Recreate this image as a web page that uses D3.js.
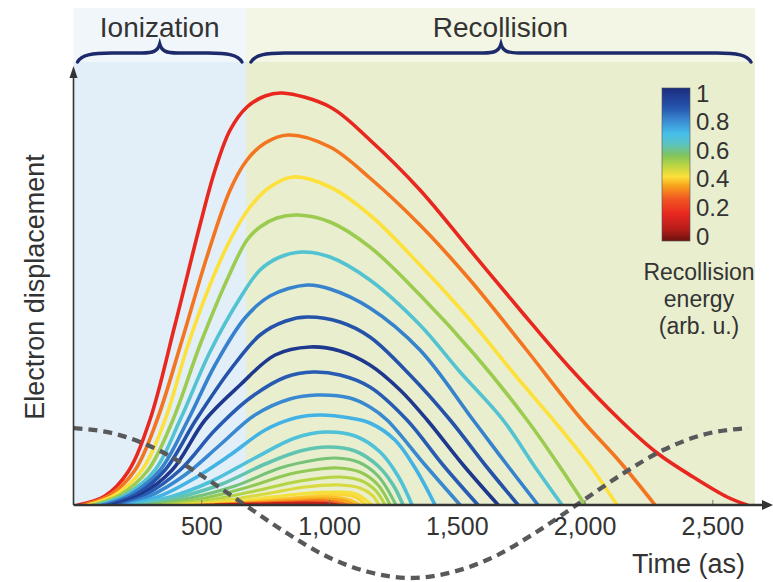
<!DOCTYPE html>
<html>
<head>
<meta charset="utf-8">
<script src="https://cdn.jsdelivr.net/npm/d3@7"></script>
<style>
    body { margin: 0; background: #fff; }
    svg { display: block; font-family: "Liberation Sans", Arial, sans-serif; }
</style>
</head>
<body>
<svg id="chart" width="773" height="582"></svg>
<script>
// time ticks (as) and colour bar ticks
const TIME_TICKS = [500, 1000, 1500, 2000, 2500];
const ENERGY_TICKS = [0, 0.2, 0.4, 0.6, 0.8, 1];
const CB_TITLE = ['Recollision', 'energy', '(arb. u.)'];

// phases (as)
const IONIZATION_END = 675;
const CYCLE_END = 2667;

// recollision energy of each trajectory (arb. u.)
const trajEnergy = [0.18, 0.31, 0.42, 0.53, 0.66, 0.8, 0.88, 0.96, 0.86, 0.79, 0.72, 0.67, 0.62, 0.58, 0.54, 0.5, 0.46, 0.43, 0.41, 0.39, 0.36, 0.3, 0.12];

// trajectory times (as)
const trajTimes = [
    [18, 123, 213, 299, 397, 495, 554, 613, 679, 750, 816, 1004, 1160, 1356, 1552, 1748, 1943, 2139, 2284, 2425, 2558, 2636],
    [37, 143, 241, 327, 425, 522, 613, 679, 750, 840, 1004, 1160, 1356, 1552, 1767, 1990, 2139, 2276],
    [57, 162, 268, 358, 448, 534, 613, 691, 769, 859, 1004, 1160, 1356, 1552, 1728, 1904, 2022, 2127],
    [76, 182, 292, 389, 495, 613, 679, 730, 796, 879, 1004, 1160, 1356, 1571, 1775, 1904, 2002],
    [96, 202, 319, 417, 534, 652, 730, 808, 894, 1004, 1160, 1356, 1513, 1681, 1806, 1912],
    [115, 221, 339, 448, 554, 671, 769, 914, 1004, 1160, 1356, 1564, 1697, 1818],
    [135, 241, 358, 479, 613, 730, 831, 914, 1043, 1160, 1317, 1474, 1611, 1740],
    [155, 260, 386, 515, 652, 789, 926, 1043, 1160, 1278, 1384, 1525, 1662],
    [174, 280, 417, 554, 691, 831, 937, 1043, 1160, 1305, 1446, 1583],
    [194, 299, 436, 573, 710, 847, 953, 1082, 1160, 1227, 1376, 1513],
    [213, 339, 476, 613, 750, 867, 965, 1082, 1160, 1258, 1337, 1415],
    [233, 378, 534, 710, 867, 984, 1102, 1200, 1270, 1325],
    [260, 417, 581, 750, 887, 996, 1102, 1192, 1251, 1290],
    [288, 456, 632, 808, 945, 1024, 1114, 1192, 1262],
    [319, 495, 671, 847, 965, 1035, 1121, 1192, 1239],
    [350, 534, 710, 887, 1043, 1129, 1184, 1219],
    [386, 573, 750, 906, 1043, 1121, 1168, 1196],
    [425, 605, 777, 926, 1035, 1106, 1168],
    [456, 632, 808, 984, 1043, 1102, 1145],
    [476, 652, 828, 1004, 1082, 1121],
    [495, 671, 847, 984, 1063, 1098],
    [515, 691, 847, 984, 1043, 1071],
    [554, 730, 887, 984, 1035],
];

// electron displacement (arb. u.)
const trajDisp = [
    [0, 2.25, 8.25, 21.25, 45, 70, 83.75, 93.75, 99.5, 102.25, 103, 99.5, 91.25, 78.75, 63.75, 48.75, 34.25, 21.25, 13, 7, 2, 0],
    [0, 2.5, 8.75, 21.25, 41.25, 62, 78.75, 86.25, 90.5, 92.5, 89.5, 81.75, 70, 56.25, 39.25, 21.25, 10.75, 0],
    [0, 2.5, 8.75, 21.25, 40, 55, 66.25, 74.5, 79.5, 82, 79.5, 72.5, 60, 46.25, 32.5, 19.25, 9.75, 0],
    [0, 2.5, 8.75, 21.25, 40, 58, 66.25, 69.5, 71.75, 72.5, 70.75, 64.5, 52.5, 37.5, 21.25, 9.5, 0],
    [0, 2.5, 8.75, 21.25, 38.25, 51.75, 58.75, 62, 63.25, 62, 56.25, 45, 33.25, 21.25, 9.5, 0],
    [0, 2.5, 8.75, 21.25, 35, 46.75, 52.25, 55, 54, 49.25, 38.75, 21.25, 10, 0],
    [0, 2.5, 8.75, 21.25, 33.75, 42.5, 46, 47, 45.75, 42, 32.5, 21.25, 10, 0],
    [0, 2.5, 8.75, 21.25, 30, 37.5, 39.5, 38.5, 35, 28.75, 21.25, 10, 0],
    [0, 2.5, 8.75, 18.75, 26.75, 32, 33.25, 32.5, 29.5, 21.25, 10, 0],
    [0, 2.25, 7.5, 15, 22.5, 26.5, 27.5, 26.75, 24.5, 21.25, 10, 0],
    [0, 2.25, 6.75, 12.5, 18.75, 21.75, 22.5, 21.75, 20.5, 16.25, 9.25, 0],
    [0, 2, 5.75, 11.75, 16.75, 18.25, 17.25, 13.25, 7.25, 0],
    [0, 2, 5.25, 10.25, 13.5, 14.5, 13.5, 9.75, 5, 0],
    [0, 1.75, 4.75, 9.25, 11.25, 11.75, 10.75, 7.25, 0],
    [0, 1.5, 4.25, 7.75, 9, 9.25, 8.25, 5, 0],
    [0, 1.25, 3.5, 6, 7, 6, 3.5, 0],
    [0, 1, 2.75, 4.5, 5, 4.25, 2.5, 0],
    [0, 0.75, 2, 3, 3.25, 2.75, 0],
    [0, 0.5, 1.4, 2.5, 2.6, 2, 0],
    [0, 0.5, 1.5, 2, 1.25, 0],
    [0, 0.4, 1.1, 1.5, 1, 0],
    [0, 0.4, 0.75, 1, 0.5, 0],
    [0, 0.25, 0.5, 0.4, 0],
];

// laser field (dashed)
const fieldTimes = [0, 165, 330, 495, 660, 825, 990, 1155, 1320, 1485, 1650, 1815, 1980, 2145, 2310, 2475, 2640];
const fieldValues = [1, 0.92, 0.71, 0.38, 0, -0.38, -0.71, -0.92, -1, -0.92, -0.71, -0.38, 0, 0.38, 0.71, 0.92, 1];

const INK = '#333';

let svg = d3.select('#chart');

let x = d3.scaleLinear().domain([0, 2500]).range([73.5, 712.3]);
let y = d3.scaleLinear().domain([0, 100]).range([505, 105]);
let yField = d3.scaleLinear().domain([-1, 1]).range([578, 428]);

let energyColor = d3.scaleLinear()
    .domain([0, 0.08, 0.18, 0.28, 0.36, 0.42, 0.5, 0.56, 0.63, 0.7, 0.78, 0.87, 1])
    .range(['#6b130e', '#b81c1a', '#e8281f', '#f15a22', '#f7a21b', '#fde03a', '#b5d444', '#80c35c', '#5cc4bf', '#46bfea', '#3b8fd4', '#2656ae', '#1b2b7e']);

// background phases
const HEAD_TOP = 8, HEAD_BOTTOM = 62;
let bg = svg.append('g');
bg.append('rect').attr('x', x(0)).attr('y', HEAD_TOP)
    .attr('width', x(IONIZATION_END) - x(0)).attr('height', HEAD_BOTTOM - HEAD_TOP).attr('fill', '#f1f6fb');
bg.append('rect').attr('x', x(0)).attr('y', HEAD_BOTTOM)
    .attr('width', x(IONIZATION_END) - x(0)).attr('height', y(0) - HEAD_BOTTOM).attr('fill', '#e2eef8');
bg.append('rect').attr('x', x(IONIZATION_END)).attr('y', HEAD_TOP)
    .attr('width', x(CYCLE_END) - x(IONIZATION_END)).attr('height', HEAD_BOTTOM - HEAD_TOP).attr('fill', '#f4f6e5');
bg.append('rect').attr('x', x(IONIZATION_END)).attr('y', HEAD_BOTTOM)
    .attr('width', x(CYCLE_END) - x(IONIZATION_END)).attr('height', y(0) - HEAD_BOTTOM).attr('fill', '#e9eecf');

function bracePath(x0, x1, yTip, yEnd) {
    let mid = (x0 + x1) / 2;
    let yMid = yTip + (yEnd - yTip) * 0.5;
    return `M${x0},${yEnd} C${x0 + 4},${yMid + 2} ${x0 + 14},${yMid} ${x0 + 34},${yMid}`
        + ` L${mid - 18},${yMid} C${mid - 6},${yMid} ${mid - 2},${yMid - 2} ${mid},${yTip}`
        + ` C${mid + 2},${yMid - 2} ${mid + 6},${yMid} ${mid + 18},${yMid}`
        + ` L${x1 - 34},${yMid} C${x1 - 14},${yMid} ${x1 - 4},${yMid + 2} ${x1},${yEnd}`;
}

let header = svg.append('g');
header.append('path').attr('d', bracePath(x(0) + 4, x(IONIZATION_END) - 4, 44, 62))
    .attr('fill', 'none').attr('stroke', '#1c2a6c').attr('stroke-width', 3.4).attr('stroke-linecap', 'round');
header.append('path').attr('d', bracePath(x(IONIZATION_END) + 5, x(CYCLE_END) - 4, 44, 62))
    .attr('fill', 'none').attr('stroke', '#1c2a6c').attr('stroke-width', 3.4).attr('stroke-linecap', 'round');
header.append('text').attr('x', (x(0) + x(IONIZATION_END)) / 2).attr('y', 37)
    .attr('text-anchor', 'middle').attr('font-size', 28).attr('fill', INK).text('Ionization');
header.append('text').attr('x', (x(IONIZATION_END) + x(CYCLE_END)) / 2).attr('y', 37)
    .attr('text-anchor', 'middle').attr('font-size', 28).attr('fill', INK).text('Recollision');

// trajectories
svg.append('clipPath').attr('id', 'above-axis')
    .append('rect').attr('x', 0).attr('y', 0).attr('width', 773).attr('height', y(0) + 0.5);
let line = d3.line().x(p => x(p[0])).y(p => y(p[1])).curve(d3.curveCatmullRom.alpha(0.5));
let trajGroup = svg.append('g').attr('fill', 'none').attr('stroke-linecap', 'round')
    .attr('clip-path', 'url(#above-axis)');
trajTimes.forEach((times, i) => {
    let pts = times.map((t, j) => [t, trajDisp[i][j]]);
    trajGroup.append('path')
        .attr('d', line(pts))
        .attr('stroke', energyColor(trajEnergy[i]))
        .attr('stroke-width', i < 13 ? 3.6 : 3.1);
});

// laser field
let fieldLine = d3.line().x(t => x(t)).y((t, j) => yField(fieldValues[j])).curve(d3.curveMonotoneX);
svg.append('path')
    .attr('d', fieldLine(fieldTimes))
    .attr('fill', 'none').attr('stroke', '#58595b').attr('stroke-width', 4.3)
    .attr('stroke-dasharray', '9,6');

// axes
let xAxis = d3.axisBottom(x).tickValues(TIME_TICKS).tickFormat(d3.format(','))
    .tickSizeInner(-5).tickSizeOuter(0).tickPadding(12);
let xAxisG = svg.append('g').attr('transform', `translate(0,${y(0)})`).call(xAxis);
xAxisG.select('.domain').remove();
xAxisG.selectAll('.tick line').attr('stroke', '#777').attr('stroke-width', 1);
xAxisG.selectAll('.tick text').attr('font-size', 25).attr('fill', INK)
    .attr('font-family', '"Liberation Sans", Arial, sans-serif');

let axes = svg.append('g').attr('stroke', INK).attr('fill', INK);
axes.append('line').attr('x1', x(0)).attr('x2', 764).attr('y1', y(0)).attr('y2', y(0)).attr('stroke-width', 2.5);
axes.append('path').attr('d', `M773,${y(0)} L762,${y(0) - 5} L762,${y(0) + 5} Z`).attr('stroke', 'none');
axes.append('line').attr('x1', x(0)).attr('x2', x(0)).attr('y1', y(0)).attr('y2', 76).attr('stroke-width', 1.6);
axes.append('path').attr('d', `M${x(0)},66 L${x(0) - 4},78 L${x(0) + 4},78 Z`).attr('stroke', 'none');

svg.append('text').attr('transform', `translate(44,287) rotate(-90)`)
    .attr('text-anchor', 'middle').attr('font-size', 27).attr('fill', INK).text('Electron displacement');
svg.append('text').attr('x', 745).attr('y', 573)
    .attr('text-anchor', 'end').attr('font-size', 27).attr('fill', INK).text('Time (as)');

// colour bar
let cb = d3.scaleLinear().domain([0, 1]).range([236, 93]);
let grad = svg.append('defs').append('linearGradient').attr('id', 'energy-grad')
    .attr('x1', 0).attr('x2', 0).attr('y1', 1).attr('y2', 0);
d3.range(0, 1.0001, 0.02).forEach(v => {
    grad.append('stop').attr('offset', v).attr('stop-color', energyColor(v));
});
let cbG = svg.append('g');
cbG.append('rect').attr('x', 662).attr('y', cb(1.035)).attr('width', 28).attr('height', cb(-0.035) - cb(1.035))
    .attr('fill', 'url(#energy-grad)').attr('stroke', '#555').attr('stroke-width', 0.6);
cbG.selectAll('text.tick').data(ENERGY_TICKS).join('text')
    .attr('class', 'tick')
    .attr('x', 696).attr('y', d => cb(d)).attr('dy', '0.36em')
    .attr('font-size', 24).attr('fill', INK)
    .text(d => d3.format('')(d));
CB_TITLE.forEach((s, i) => {
    cbG.append('text').attr('x', 699).attr('y', 280 + i * 27)
        .attr('text-anchor', 'middle').attr('font-size', 23).attr('fill', INK).text(s);
});
</script>
</body>
</html>
